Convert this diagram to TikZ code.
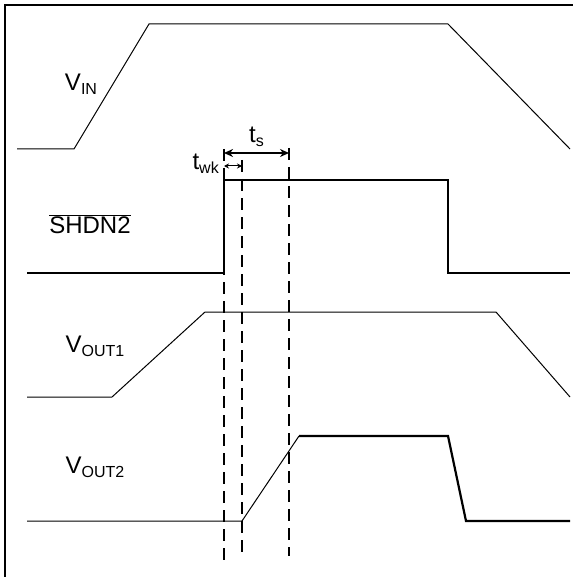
\documentclass[tikz,border=0pt]{standalone}
\usepackage{fontspec}
\setmainfont{Liberation Sans}
\usetikzlibrary{arrows.meta}
\newcommand{\lo}[1]{\raisebox{-4pt}{\fontsize{16}{18}\selectfont #1}}
\begin{document}
\begin{tikzpicture}[x=1pt,y=-1pt,
    thin sig/.style={line width=1pt},
    bold sig/.style={line width=2.2pt},
    guide/.style={line width=1.8pt,dash pattern=on 12pt off 7pt},
    lbl/.style={font=\fontsize{24}{26}\selectfont,inner sep=0pt}]
    \useasboundingbox (0,0) rectangle (573,577);
    % frame
    \draw[line width=2.2pt] (5,577) -- (5,5) -- (573,5);
    % V_IN
    \draw[thin sig] (17,149) -- (74,149) -- (149,24) -- (448,24) -- (570,149);
    \node[lbl] (vin) at (81,84) {V\lo{IN}};
    % SHDN2
    \coordinate (sh0) at (224,273);
    \coordinate (sh1) at (224,180);
    \draw[bold sig] (27,273) -- (sh0) -- (sh1) -- (448,180) -- (448,273) -- (570,273);
    \node[lbl] (shdn) at (90,224) {$\overline{\hbox{SHDN2}}$};
    % V_OUT1
    \draw[thin sig] (27,397) -- (112,397) -- (205,312) -- (496,312) -- (570,397);
    \node[lbl] (vout1) at (95,346) {V\lo{OUT1}};
    % V_OUT2
    \coordinate (v2a) at (242,521);
    \coordinate (v2b) at (299,436);
    \draw[thin sig] (27,521) -- (v2a) -- (v2b);
    \draw[bold sig] (v2b) -- (448,436) -- (466,521) -- (570,521);
    \node[lbl] (vout2) at (95,467) {V\lo{OUT2}};
    % timing guides
    \coordinate (g1t) at (224,149);
    \coordinate (g1b) at (224,564);
    \coordinate (g2t) at (242,160);
    \coordinate (g2b) at (242,556);
    \coordinate (g3t) at (289,148);
    \coordinate (g3b) at (289,556);
    \draw[guide] (g1t) -- (g1b);
    \draw[guide] (g2t) -- (g2b);
    \draw[guide] (g3t) -- (g3b);
    \draw[line width=1.8pt,{Stealth[length=9pt,width=8pt]}-{Stealth[length=9pt,width=8pt]}]
        (224,153) -- (289,153) node[midway,above=5pt,lbl] (ts) {t\lo{s}};
    \draw[line width=1pt,{Stealth[length=5pt,width=5pt]}-{Stealth[length=5pt,width=5pt]}]
        (224,166) -- (242,166);
    \node[lbl,anchor=east] (twk) at (219,164) {t\lo{wk}};
\end{tikzpicture}
\end{document}
